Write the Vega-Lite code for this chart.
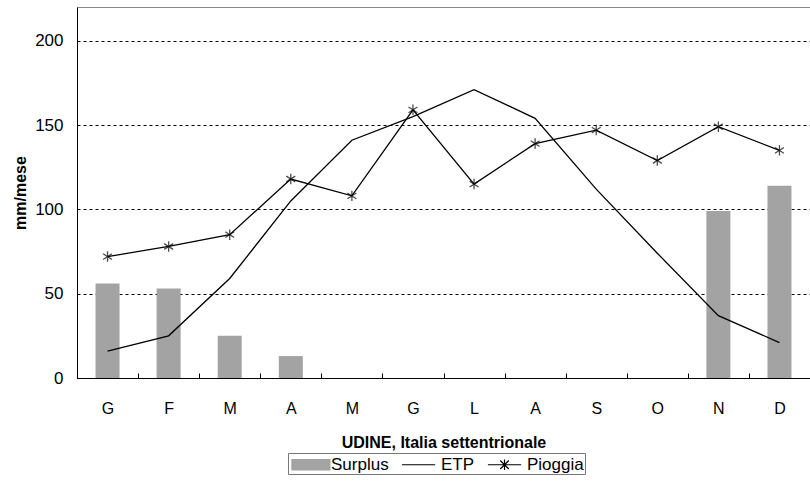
{
  "$schema": "https://vega.github.io/schema/vega-lite/v6.json",
  "width": 733,
  "height": 371,
  "autosize": "none",
  "padding": {"left": 77, "top": 7, "right": 0, "bottom": 105},
  "background": "white",
  "config": {
    "font": "Liberation Sans",
    "view": {"stroke": "#888888", "strokeWidth": 1},
    "axis": {"labelColor": "black", "titleColor": "black", "domainColor": "black", "tickColor": "black"}
  },
  "data": {
    "values": [
      {"mese": "Gen", "surplus": 56, "etp": 16, "pioggia": 72},
      {"mese": "Feb", "surplus": 53, "etp": 25, "pioggia": 78},
      {"mese": "Mar", "surplus": 25, "etp": 59, "pioggia": 85},
      {"mese": "Apr", "surplus": 13, "etp": 105, "pioggia": 118},
      {"mese": "Mag", "surplus": 0, "etp": 141, "pioggia": 108},
      {"mese": "Giu", "surplus": 0, "etp": 155, "pioggia": 159},
      {"mese": "Lug", "surplus": 0, "etp": 171, "pioggia": 115},
      {"mese": "Ago", "surplus": 0, "etp": 154, "pioggia": 139},
      {"mese": "Set", "surplus": 0, "etp": 112, "pioggia": 147},
      {"mese": "Ott", "surplus": 0, "etp": 74, "pioggia": 129},
      {"mese": "Nov", "surplus": 99, "etp": 37, "pioggia": 149},
      {"mese": "Dic", "surplus": 114, "etp": 21, "pioggia": 135}
    ]
  },
  "encoding": {
    "x": {
      "field": "mese",
      "type": "nominal",
      "sort": null,
      "scale": {"paddingInner": 0, "paddingOuter": 0},
      "axis": {
        "title": "UDINE, Italia settentrionale",
        "titleFontSize": 16,
        "titleFontWeight": "bold",
        "titlePadding": 18,
        "labelAngle": 0,
        "labelFontSize": 16,
        "labelPadding": 27,
        "labelExpr": "datum.value ? substring(datum.value, 0, 1) : ''",
        "tickBand": "extent",
        "tickSize": -5,
        "grid": false
      }
    }
  },
  "layer": [
    {
      "mark": {"type": "bar", "size": 24},
      "encoding": {
        "y": {
          "field": "surplus",
          "type": "quantitative",
          "scale": {"domain": [0, 220], "nice": false},
          "axis": {
            "title": "mm/mese",
            "titleFontSize": 16,
            "titleFontWeight": "bold",
            "titlePadding": 6,
            "values": [0, 50, 100, 150, 200],
            "labelFontSize": 17,
            "labelPadding": 14,
            "ticks": false,
            "grid": true,
            "gridColor": "black",
            "gridDash": [3, 3],
            "gridWidth": 1
          }
        },
        "color": {
          "datum": "Surplus",
          "scale": {"domain": ["Surplus", "ETP", "Pioggia"], "range": ["#a3a3a3", "black", "black"]},
          "legend": {
            "title": null,
            "orient": "none",
            "legendX": 211,
            "legendY": 446,
            "direction": "horizontal",
            "labelFontSize": 17,
            "labelColor": "black",
            "labelOffset": 21,
            "columnPadding": 10,
            "symbolSize": 361,
            "symbolStrokeWidth": 1.2,
            "padding": 1,
            "strokeColor": "#777777",
            "fillColor": "white",
            "encode": {
              "symbols": {
                "update": {
                  "shape": {"signal": "datum.value === 'Surplus' ? 'M-0.8,-0.55H3.2V0.55H-0.8Z' : (datum.value === 'ETP' ? 'M-0.8,0H2.7' : 'M-0.8,0H2.7M0.5,-0.45L1.4,0.45M0.5,0.45L1.4,-0.45M0.95,-0.55V0.55')"},
                  "fill": {"signal": "datum.value === 'Surplus' ? '#a3a3a3' : 'transparent'"},
                  "stroke": {"signal": "datum.value === 'Surplus' ? 'transparent' : 'black'"},
                  "strokeWidth": {"value": 1.2}
                }
              }
            }
          }
        }
      }
    },
    {
      "mark": {"type": "line", "strokeWidth": 1.3},
      "encoding": {
        "y": {"field": "etp", "type": "quantitative"},
        "color": {"datum": "ETP"}
      }
    },
    {
      "mark": {"type": "line", "strokeWidth": 1.3},
      "encoding": {
        "y": {"field": "pioggia", "type": "quantitative"},
        "color": {"datum": "Pioggia"}
      }
    },
    {
      "mark": {"type": "point", "filled": false, "size": 110, "strokeWidth": 1.3, "shape": "M0,-1V1M-0.85,-0.55L0.85,0.55M-0.85,0.55L0.85,-0.55"},
      "encoding": {
        "y": {"field": "pioggia", "type": "quantitative"},
        "color": {"datum": "Pioggia"}
      }
    }
  ]
}
